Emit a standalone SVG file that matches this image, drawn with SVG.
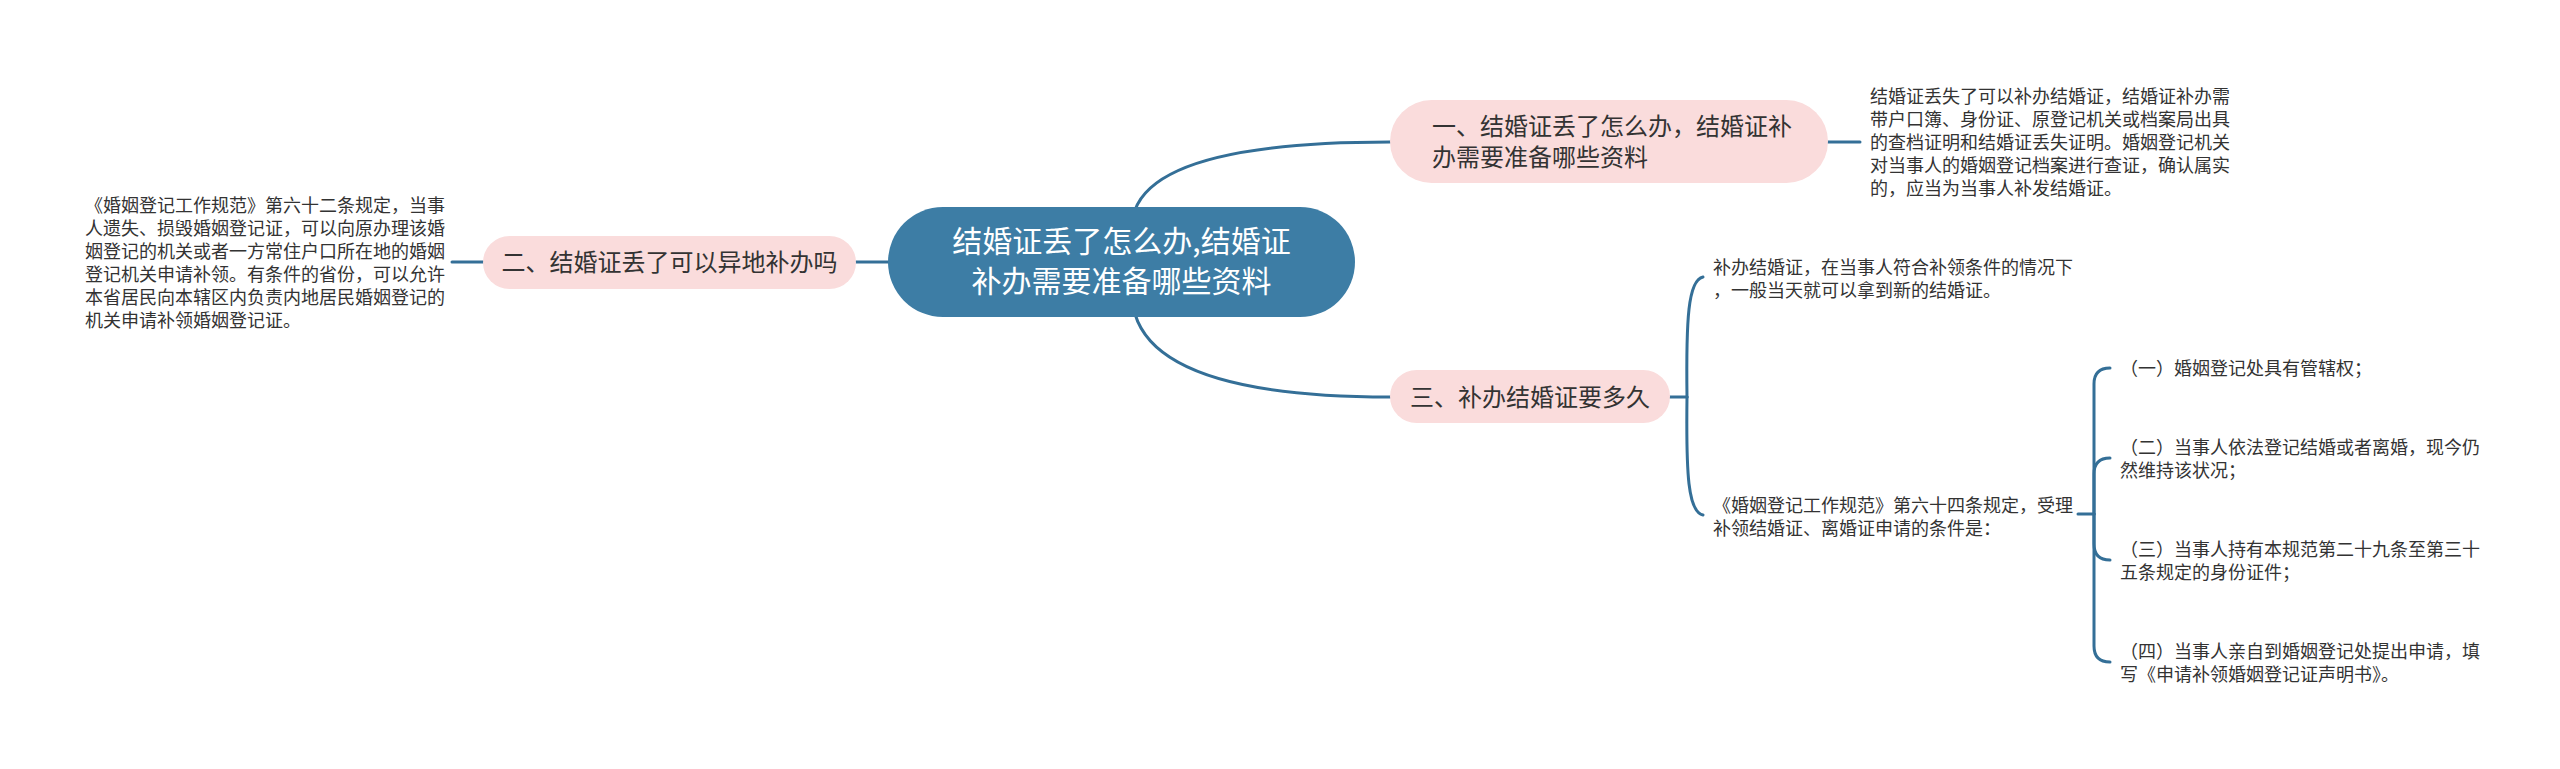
<svg xmlns="http://www.w3.org/2000/svg" width="2560" height="769" viewBox="0 0 2560 769">
<style>
.c{fill:none;stroke:#346f97;stroke-width:3;stroke-linecap:round}
.pink{fill:#fadcdc}
.t24{font-family:"Noto Sans CJK SC","Liberation Sans",sans-serif;font-size:24px;fill:#333}
.t18{font-family:"Noto Sans CJK SC","Liberation Sans",sans-serif;font-size:18px;fill:#333}
.tc{font-family:"Noto Sans CJK SC","Liberation Sans",sans-serif;font-size:30px;fill:#fff}
</style>
<rect width="2560" height="769" fill="#fff"/>
<g id="connectors">
<path class="c" d="M1135 210 Q1160 142 1390 142"/>
<path class="c" d="M1135 314 Q1160 397 1390 397"/>
<path class="c" d="M856 262 L890 262"/>
<path class="c" d="M452 262 L483 262"/>
<path class="c" d="M1828 142 L1860 142"/>
<path class="c" d="M1670 397 L1687 397"/>
<path class="c" d="M1687 397 C1686 320 1688 280 1703 277"/>
<path class="c" d="M1687 397 C1686 474 1688 512 1703 515"/>
<path class="c" d="M2078 514 L2094 514"/>
<path class="c" d="M2094 514 L2094 384 Q2094 368 2110 368"/>
<path class="c" d="M2094 514 L2094 474 Q2094 458 2110 458"/>
<path class="c" d="M2094 514 L2094 544 Q2094 560 2110 560"/>
<path class="c" d="M2094 514 L2094 646 Q2094 662 2110 662"/>
</g>
<g id="root">
<rect x="888" y="207" width="467" height="110" rx="55" fill="#3d7da5"/>
<text class="tc" x="1121.5" y="252" text-anchor="middle">结婚证丢了怎么办,结婚证</text>
<text class="tc" x="1121.5" y="292" text-anchor="middle">补办需要准备哪些资料</text>
</g>
<g id="node1">
<rect class="pink" x="1390" y="100" width="438" height="83" rx="41.5"/>
<text class="t24" x="1432" y="135">一、结婚证丢了怎么办，结婚证补</text>
<text class="t24" x="1432" y="166">办需要准备哪些资料</text>
</g>
<g id="node1-text">
<text class="t18" x="1870" y="103">结婚证丢失了可以补办结婚证，结婚证补办需</text>
<text class="t18" x="1870" y="126">带户口簿、身份证、原登记机关或档案局出具</text>
<text class="t18" x="1870" y="149">的查档证明和结婚证丢失证明。婚姻登记机关</text>
<text class="t18" x="1870" y="172">对当事人的婚姻登记档案进行查证，确认属实</text>
<text class="t18" x="1870" y="195">的，应当为当事人补发结婚证。</text>
</g>
<g id="node2">
<rect class="pink" x="483" y="236" width="373" height="53" rx="26.5"/>
<text class="t24" x="669.5" y="271" text-anchor="middle">二、结婚证丢了可以异地补办吗</text>
</g>
<g id="node2-text">
<text class="t18" x="85" y="211.5">《婚姻登记工作规范》第六十二条规定，当事</text>
<text class="t18" x="85" y="234.5">人遗失、损毁婚姻登记证，可以向原办理该婚</text>
<text class="t18" x="85" y="257.5">姻登记的机关或者一方常住户口所在地的婚姻</text>
<text class="t18" x="85" y="280.5">登记机关申请补领。有条件的省份，可以允许</text>
<text class="t18" x="85" y="303.5">本省居民向本辖区内负责内地居民婚姻登记的</text>
<text class="t18" x="85" y="326.5">机关申请补领婚姻登记证。</text>
</g>
<g id="node3">
<rect class="pink" x="1390" y="370" width="280" height="53" rx="26.5"/>
<text class="t24" x="1530" y="406" text-anchor="middle">三、补办结婚证要多久</text>
</g>
<g id="node3-text-a">
<text class="t18" x="1713" y="274">补办结婚证，在当事人符合补领条件的情况下</text>
<text class="t18" x="1713" y="297">，一般当天就可以拿到新的结婚证。</text>
</g>
<g id="node3-text-b">
<text class="t18" x="1713" y="511.5">《婚姻登记工作规范》第六十四条规定，受理</text>
<text class="t18" x="1713" y="534.5">补领结婚证、离婚证申请的条件是：</text>
</g>
<g id="item1">
<text class="t18" x="2120" y="375">（一）婚姻登记处具有管辖权；</text>
</g>
<g id="item2">
<text class="t18" x="2120" y="453.5">（二）当事人依法登记结婚或者离婚，现今仍</text>
<text class="t18" x="2120" y="476.5">然维持该状况；</text>
</g>
<g id="item3">
<text class="t18" x="2120" y="555.5">（三）当事人持有本规范第二十九条至第三十</text>
<text class="t18" x="2120" y="578.5">五条规定的身份证件；</text>
</g>
<g id="item4">
<text class="t18" x="2120" y="657.5">（四）当事人亲自到婚姻登记处提出申请，填</text>
<text class="t18" x="2120" y="680.5">写《申请补领婚姻登记证声明书》。</text>
</g>
</svg>
